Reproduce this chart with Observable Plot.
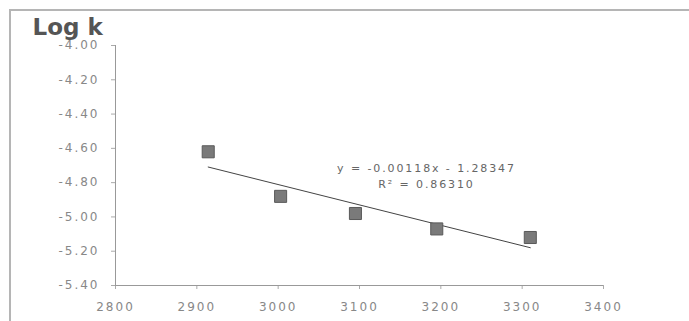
<!DOCTYPE html>
<html>
<head>
<meta charset="utf-8">
<script src="https://cdn.jsdelivr.net/npm/d3@7"></script>
<script src="https://cdn.jsdelivr.net/npm/@observablehq/plot@0.6"></script>
<style>
  html, body { margin: 0; padding: 0; background: #fff; }
  #wrap { position: relative; width: 689px; height: 321px; }
  #wrap::before { content: ""; position: absolute; left: 9px; top: 9px; right: 0; bottom: 0;
    border-top: 2px solid #b5b5b5; border-left: 2px solid #b5b5b5; pointer-events: none; }
</style>
</head>
<body>
<div id="wrap"></div>
<script>
const xValues = [2914, 3003, 3095, 3195, 3310];
const logK = [-4.62, -4.88, -4.98, -5.07, -5.12];
const xTicks = [2800, 2900, 3000, 3100, 3200, 3300, 3400];
const yTicks = [-4.0, -4.2, -4.4, -4.6, -4.8, -5.0, -5.2, -5.4];
const titleText = "Log k";
const equationLines = ["y = -0.00118x - 1.28347", "R² = 0.86310"];

const data = xValues.map((x, i) => ({x, y: logK[i]}));

const chart = Plot.plot({
  width: 689,
  height: 321,
  marginLeft: 115,
  marginRight: 86,
  marginTop: 45,
  marginBottom: 36,
  style: {fontFamily: "DejaVu Sans, sans-serif", fontSize: "12px", color: "#888", background: "transparent"},
  x: {domain: [2800, 3400]},
  y: {domain: [-5.4, -4.0]},
  marks: [
    Plot.axisX({ticks: xTicks, tickSize: 4, tickPadding: 13, stroke: "#aaa", color: "#888", fontSize: 12, label: null, tickFormat: d => String(d)}),
    Plot.axisY({ticks: yTicks, tickSize: 4, tickPadding: 12, stroke: "#aaa", color: "#888", fontSize: 12, label: null, tickFormat: d => d.toFixed(2)}),
    Plot.ruleX([2800], {stroke: "#999"}),
    Plot.ruleY([-5.4], {stroke: "#999"}),
    Plot.linearRegressionY(data, {x: "x", y: "y", ci: 0, stroke: "#444", strokeWidth: 1}),
    Plot.dot(data, {x: "x", y: "y", symbol: "square", r: 6.8, fill: "#7a7a7a", stroke: "#5a5a5a", strokeWidth: 1}),
    Plot.text([equationLines.join("\n")], {frameAnchor: "top-left", dx: 311, dy: 115, textAnchor: "middle", lineAnchor: "top", lineHeight: 1.45, fill: "#666", fontSize: 11}),
    Plot.text([titleText], {frameAnchor: "top-left", dx: -83, dy: -27, textAnchor: "start", lineAnchor: "top", fill: "#555", fontSize: 23, fontWeight: "bold"})
  ]
});
chart.querySelectorAll('g[aria-label="x-axis tick label"] text, g[aria-label="y-axis tick label"] text').forEach(t => t.style.letterSpacing = "2px");
chart.querySelectorAll('text').forEach(t => { if (t.textContent.startsWith("y =") || t.textContent.startsWith("R²")) t.style.letterSpacing = "1.9px"; });
document.getElementById("wrap").appendChild(chart);
</script>
</body>
</html>
